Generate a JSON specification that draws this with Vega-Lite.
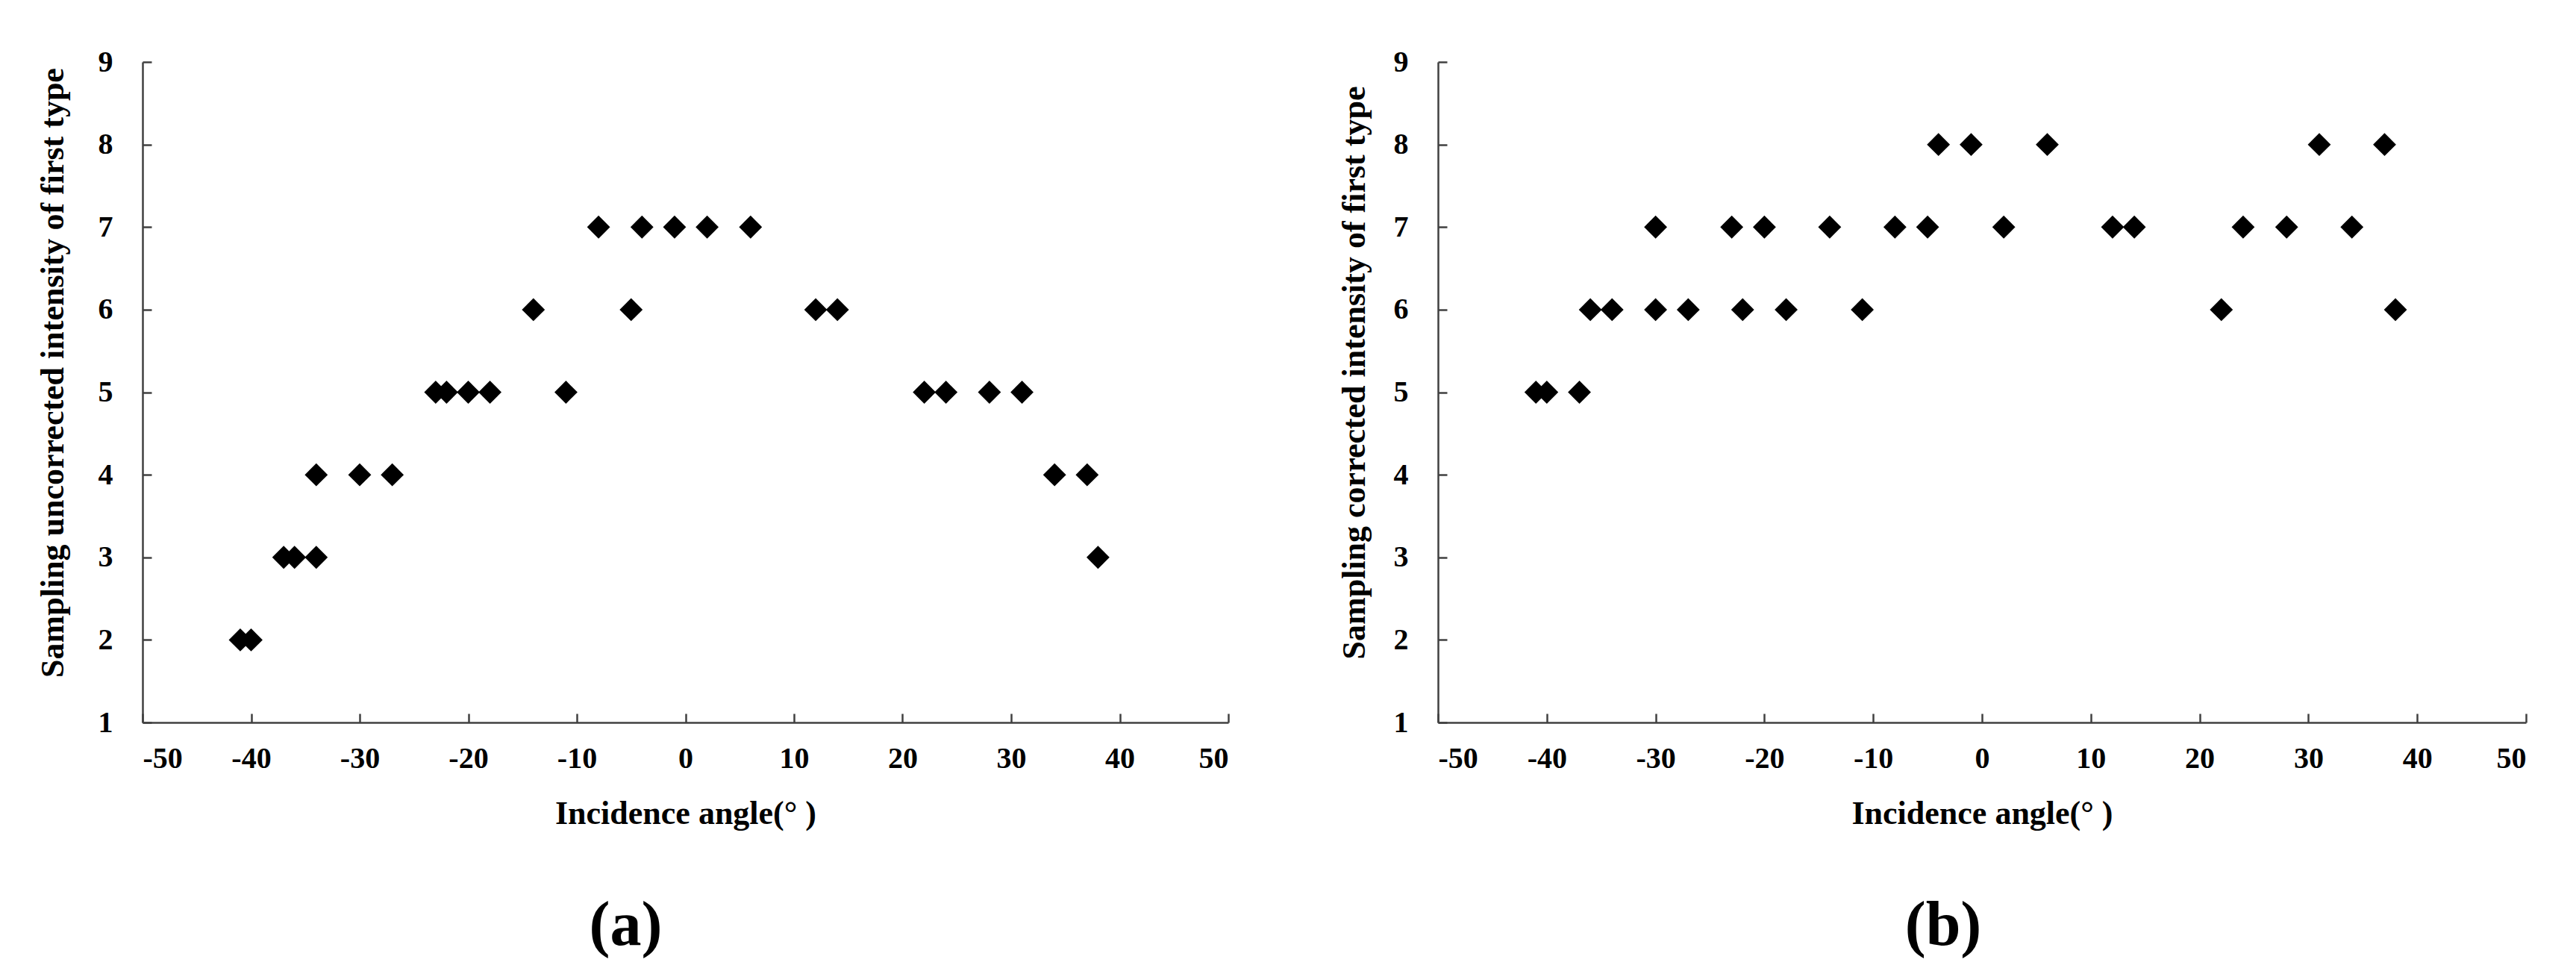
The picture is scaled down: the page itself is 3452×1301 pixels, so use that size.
{
  "$schema": "https://vega.github.io/schema/vega-lite/v6.json",
  "background": "white",
  "padding": {"left": 49, "top": 63, "right": 20, "bottom": 10},
  "spacing": 145,
  "config": {
    "view": {"stroke": null},
    "axis": {
      "grid": false,
      "domainColor": "#404040",
      "domainWidth": 2.5,
      "tickColor": "#404040",
      "tickWidth": 2.5,
      "tickSize": -12,
      "labelFont": "Liberation Serif",
      "labelFontWeight": "bold",
      "labelFontSize": 40,
      "labelColor": "black",
      "labelExpr": "replace(datum.label, '−', '-')",
      "titleFont": "Liberation Serif",
      "titleFontWeight": "bold",
      "titleFontSize": 44,
      "titleColor": "black"
    },
    "title": {
      "font": "Liberation Serif",
      "fontSize": 84,
      "fontWeight": "bold",
      "color": "black",
      "orient": "bottom",
      "anchor": "middle"
    }
  },
  "datasets": {
    "a": [
      {"angle": -41, "intensity": 2}, {"angle": -40, "intensity": 2},
      {"angle": -37, "intensity": 3}, {"angle": -36, "intensity": 3}, {"angle": -34, "intensity": 3},
      {"angle": -34, "intensity": 4}, {"angle": -30, "intensity": 4}, {"angle": -27, "intensity": 4},
      {"angle": -23, "intensity": 5}, {"angle": -22, "intensity": 5}, {"angle": -20, "intensity": 5}, {"angle": -18, "intensity": 5},
      {"angle": -14, "intensity": 6}, {"angle": -11, "intensity": 5}, {"angle": -8, "intensity": 7}, {"angle": -5, "intensity": 6},
      {"angle": -4, "intensity": 7}, {"angle": -1, "intensity": 7}, {"angle": 2, "intensity": 7}, {"angle": 6, "intensity": 7},
      {"angle": 12, "intensity": 6}, {"angle": 14, "intensity": 6},
      {"angle": 22, "intensity": 5}, {"angle": 24, "intensity": 5}, {"angle": 28, "intensity": 5}, {"angle": 31, "intensity": 5},
      {"angle": 34, "intensity": 4}, {"angle": 37, "intensity": 4}, {"angle": 38, "intensity": 3}
    ],
    "b": [
      {"angle": -41, "intensity": 5}, {"angle": -40, "intensity": 5}, {"angle": -37, "intensity": 5},
      {"angle": -36, "intensity": 6}, {"angle": -34, "intensity": 6}, {"angle": -30, "intensity": 6}, {"angle": -30, "intensity": 7},
      {"angle": -27, "intensity": 6}, {"angle": -23, "intensity": 7}, {"angle": -22, "intensity": 6}, {"angle": -20, "intensity": 7},
      {"angle": -18, "intensity": 6}, {"angle": -14, "intensity": 7}, {"angle": -11, "intensity": 6}, {"angle": -8, "intensity": 7},
      {"angle": -5, "intensity": 7}, {"angle": -4, "intensity": 8}, {"angle": -1, "intensity": 8}, {"angle": 2, "intensity": 7},
      {"angle": 6, "intensity": 8}, {"angle": 12, "intensity": 7}, {"angle": 14, "intensity": 7},
      {"angle": 22, "intensity": 6}, {"angle": 24, "intensity": 7}, {"angle": 28, "intensity": 7}, {"angle": 31, "intensity": 8},
      {"angle": 34, "intensity": 7}, {"angle": 37, "intensity": 8}, {"angle": 38, "intensity": 6}
    ]
  },
  "hconcat": [
    {
      "width": 1455,
      "height": 885,
      "data": {"name": "a"},
      "title": {"text": "(a)", "offset": 88, "dx": -80},
      "mark": {"type": "point", "shape": "diamond", "filled": true, "color": "black", "opacity": 1, "size": 950},
      "encoding": {
        "x": {
          "field": "angle", "type": "quantitative",
          "scale": {"domain": [-50, 50], "nice": false, "zero": false},
          "axis": {"values": [-50, -40, -30, -20, -10, 0, 10, 20, 30, 40, 50], "title": "Incidence angle(°   )", "labelPadding": 40, "titlePadding": 32}
        },
        "y": {
          "field": "intensity", "type": "quantitative",
          "scale": {"domain": [1, 9], "nice": false, "zero": false},
          "axis": {"values": [1, 2, 3, 4, 5, 6, 7, 8, 9], "title": "Sampling uncorrected intensity of first type", "labelPadding": 52, "titlePadding": 38, "titleY": 416}
        }
      }
    },
    {
      "width": 1458,
      "height": 885,
      "data": {"name": "b"},
      "title": {"text": "(b)", "offset": 88, "dx": -52},
      "mark": {"type": "point", "shape": "diamond", "filled": true, "color": "black", "opacity": 1, "size": 950},
      "encoding": {
        "x": {
          "field": "angle", "type": "quantitative",
          "scale": {"domain": [-50, 50], "nice": false, "zero": false},
          "axis": {"values": [-50, -40, -30, -20, -10, 0, 10, 20, 30, 40, 50], "title": "Incidence angle(°   )", "labelPadding": 40, "titlePadding": 32}
        },
        "y": {
          "field": "intensity", "type": "quantitative",
          "scale": {"domain": [1, 9], "nice": false, "zero": false},
          "axis": {"values": [1, 2, 3, 4, 5, 6, 7, 8, 9], "title": "Sampling corrected intensity of first type", "labelPadding": 52, "titlePadding": 30, "titleY": 416}
        }
      }
    }
  ]
}
